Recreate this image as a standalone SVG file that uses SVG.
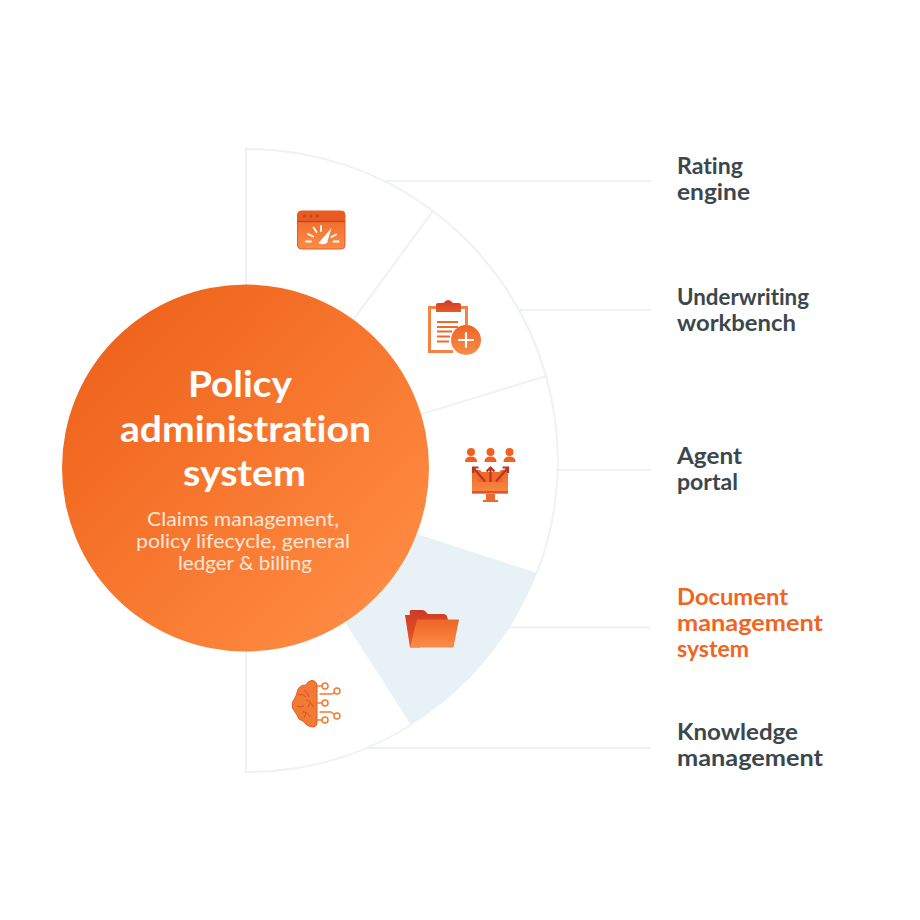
<svg xmlns="http://www.w3.org/2000/svg" width="920" height="920" viewBox="0 0 920 920">
<style>
.ln{fill:none;stroke:#eef2f2;stroke-width:2}
.lab{font:700 22px Lato,"Open Sans",sans-serif;font-variant-ligatures:none;fill:#3c474d}
.hi{fill:#f0651f}
.t{font:700 36.500px Lato,"Open Sans",sans-serif;font-variant-ligatures:none;fill:#fff}
.s{font:400 19px Lato,"Open Sans",sans-serif;font-variant-ligatures:none;fill:#ffe6d8}
.w{fill:#fff}
.wl{fill:none;stroke:#fff;stroke-linecap:round}
.ol{fill:none;stroke:#f47a35;stroke-width:1.500}
</style>
<defs>
<linearGradient id="big" x1=".12" y1=".12" x2=".88" y2=".88"><stop offset="0" stop-color="#ef631c"/><stop offset="1" stop-color="#ff8b42"/></linearGradient>
<linearGradient id="ic" x1="0" y1="0" x2="0" y2="1"><stop offset="0" stop-color="#ee6525"/><stop offset="1" stop-color="#fb8c48"/></linearGradient>
<linearGradient id="dk" x1="0" y1="0" x2="0" y2="1"><stop offset="0" stop-color="#cf3a26"/><stop offset="1" stop-color="#e85a25"/></linearGradient>
</defs>
<g id="connectors">
<path class="ln" d="M385 181H651M520 310H651M558 470H651M508 627.500H651M366 748H651"/>
</g>
<g id="segments">
<path id="seg-doc" d="M300 552L400 528.500L537 573A311.500 311.500 0 0 1 411 725Z" fill="#e8f1f5"/>
<path class="ln" d="M246 460V149A311.500 311.500 0 0 1 433 211"/>
<path id="seg-rating" class="ln" d="M246 466L433 211"/>
<path id="seg-under" class="ln" d="M433 211A311.500 311.500 0 0 1 546 376L246 468"/>
<path id="seg-agent" class="ln" d="M546 376A311.500 311.500 0 0 1 537 573"/>
<path id="seg-know" class="ln" d="M411 725A311.500 311.500 0 0 1 246 772V460"/>
</g>
<g id="hub">
<circle cx="245.500" cy="468" r="183.500" fill="url(#big)"/>
<text class="t" x="188" y="397" textLength="104" lengthAdjust="spacingAndGlyphs">Policy</text>
<text class="t" x="120" y="442" textLength="251" lengthAdjust="spacingAndGlyphs">administration</text>
<text class="t" x="183" y="486" textLength="123" lengthAdjust="spacingAndGlyphs">system</text>
<text class="s" x="147" y="526" textLength="192" lengthAdjust="spacingAndGlyphs">Claims management,</text>
<text class="s" x="136" y="548" textLength="214" lengthAdjust="spacingAndGlyphs">policy lifecycle, general</text>
<text class="s" x="178" y="570" textLength="134" lengthAdjust="spacingAndGlyphs">ledger &amp; billing</text>
</g>
<g id="icon-rating">
<rect x="297.500" y="211" width="47.500" height="38" rx="4" fill="url(#ic)" stroke="#e8592a"/>
<path d="M297.500 221.500V215a4 4 0 0 1 4-4h39.500a4 4 0 0 1 4 4v6.500Z" fill="#e85c22"/>
<path d="M297.500 221.500H345" stroke="#cb4322" stroke-width="1.500"/>
<circle cx="304.500" cy="216" r="1.600" fill="#cb4322"/><circle cx="311" cy="216" r="1.600" fill="#cb4322"/><circle cx="317.500" cy="216" r="1.600" fill="#cb4322"/>
<path class="wl" stroke-width="1.800" d="M306 241.500H311M308 234L313 236.500M313.500 227.500L316.500 232M321 226V231M331.500 237L336 234.500M333.500 241.500H338.500"/>
<path class="w" d="M331.500 228L327 243Q322 245.500 318.500 243Z"/>
</g>
<g id="icon-underwriting">
<path d="M453 351.500H429.500V307.500H466.500V325" fill="#fff" stroke="#f58240" stroke-width="3"/>
<path d="M436 305Q436 303 438 303H443.500Q448 297 453 303H459Q461 303 461 305V312H436Z" fill="url(#dk)"/>
<path d="M437 322H458M437 327H458M437 331.500H452M437 336.500H450M437 341.500H449" stroke="#f0682a" stroke-width="2"/>
<circle cx="466" cy="340" r="15" fill="url(#ic)"/>
<path class="wl" stroke-width="2.200" d="M466 333V347M459 340H473"/>
</g>
<g id="icon-agent">
<g fill="#f0611f">
<circle cx="471" cy="452" r="4"/><path d="M465 462Q465 456.500 471 456.500T477 462Z"/>
<circle cx="490.500" cy="452" r="4"/><path d="M484.500 462Q484.500 456.500 490.500 456.500T496.500 462Z"/>
<circle cx="509.500" cy="452" r="4"/><path d="M503.500 462Q503.500 456.500 509.500 456.500T515.500 462Z"/>
</g>
<path d="M472 470L480 470L490.500 482L501 470H508V494H472Z" fill="url(#ic)"/>
<path d="M478 472H503V482H478Z" fill="#f0692a"/>
<path d="M472 492H508" stroke="#d2452a" stroke-width="1.500"/>
<path d="M486 494H495V500H486Z" fill="#ee6a2a"/><path d="M483 501H498" stroke="#ee6a2a" stroke-width="2"/>
<path d="M490.500 482V467.500M486.500 471.500L490.500 467.500L494.500 471.500M485 481.500L473.500 468M473 473V467.500H478.500M496 481.500L507.500 468M502.500 467.500H508V473" fill="none" stroke="#b93524" stroke-width="2.200"/>
</g>
<g id="icon-document">
<path d="M405 615L410 647.500H420L428 620L448 620Q447 614 444 614H428L425 611Q424 610 422 610H411Q409 610 410 615Z" fill="url(#dk)"/>
<path d="M417 619.500H459L453.500 647.500H410Z" fill="url(#ic)"/>
</g>
<g id="icon-knowledge">
<path d="M312 680.500Q308 680.500 306 685Q299 685 297.500 691Q296 696 295 698Q291 702 292.500 708Q295 712 297 715Q298 720 303 721Q307 727 314 727Q317 726 317 723V685Q316 680.500 312 680.500Z" fill="#f17a35" stroke="#e25a28"/>
<path d="M298 695Q303 693 306 697M304 690Q308 692 309 697M306 700Q311 701 313 707M310 703L308 707M302 712Q307 711 310 717M306 713L304 718M297 706Q301 708 304 706" fill="none" stroke="#d94f25"/>
<path d="M317 686H322M317 703H322M317 720H322M319.500 694H332L335 692M319.500 712H331L334.500 714.500" fill="none" stroke="#f47a35" stroke-width="1.500"/>
<circle class="ol" cx="325" cy="686" r="3"/><circle class="ol" cx="337" cy="691" r="3"/><circle class="ol" cx="325" cy="703" r="3"/><circle class="ol" cx="337" cy="716" r="3"/><circle class="ol" cx="325" cy="720" r="3"/>
</g>
<g id="label-rating"><text class="lab" x="677" y="174" textLength="66" lengthAdjust="spacingAndGlyphs">Rating</text><text class="lab" x="677" y="200" textLength="73" lengthAdjust="spacingAndGlyphs">engine</text></g>
<g id="label-underwriting"><text class="lab" x="677" y="305" textLength="132" lengthAdjust="spacingAndGlyphs">Underwriting</text><text class="lab" x="677" y="331" textLength="119" lengthAdjust="spacingAndGlyphs">workbench</text></g>
<g id="label-agent"><text class="lab" x="677" y="464" textLength="65" lengthAdjust="spacingAndGlyphs">Agent</text><text class="lab" x="677" y="490" textLength="61" lengthAdjust="spacingAndGlyphs">portal</text></g>
<g id="label-document"><text class="lab hi" x="677" y="605" textLength="111" lengthAdjust="spacingAndGlyphs">Document</text><text class="lab hi" x="677" y="631" textLength="146" lengthAdjust="spacingAndGlyphs">management</text><text class="lab hi" x="677" y="657" textLength="72" lengthAdjust="spacingAndGlyphs">system</text></g>
<g id="label-knowledge"><text class="lab" x="677" y="740" textLength="121" lengthAdjust="spacingAndGlyphs">Knowledge</text><text class="lab" x="677" y="766" textLength="146" lengthAdjust="spacingAndGlyphs">management</text></g>
</svg>
